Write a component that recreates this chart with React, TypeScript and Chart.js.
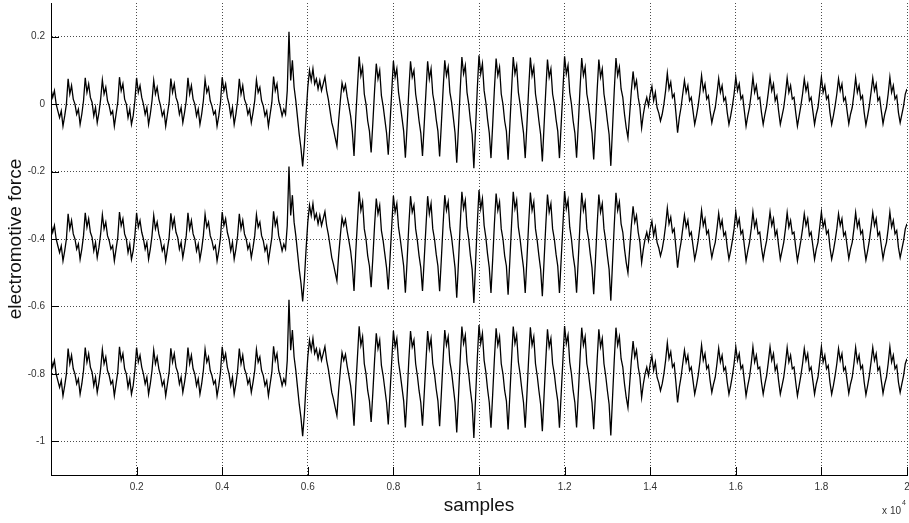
import React, { useEffect, useRef } from "react";
import { Chart, registerables } from "chart.js";

Chart.register(...registerables);

// sample index of every stored point (one point each 40 samples, 0 … 20000)
const samples: number[] = Array.from({ length: 501 }, (_, i) => i * 40);

// upper trace (baseline 0)
const emfUpper: number[] = [
  0.045, 0.02, 0.04, 0.0, -0.02, -0.04, -0.02, -0.065, -0.035, 0.0,
  0.075, 0.03, 0.055, 0.015, 0.0, -0.03, -0.015, -0.06, -0.03, 0.01,
  0.078, 0.035, 0.06, 0.02, 0.005, -0.035, -0.01, -0.055, -0.025, 0.015,
  0.072, 0.03, 0.05, 0.01, -0.005, -0.03, -0.02, -0.065, -0.03, 0.005,
  0.08, 0.04, 0.06, 0.015, 0.0, -0.04, -0.015, -0.06, -0.035, 0.01,
  0.078, 0.035, 0.055, 0.02, 0.0, -0.03, -0.01, -0.06, -0.03, 0.01,
  0.07, 0.03, 0.05, 0.015, -0.005, -0.035, -0.02, -0.065, -0.03, 0.005,
  0.076, 0.035, 0.06, 0.02, 0.005, -0.03, -0.01, -0.055, -0.025, 0.01,
  0.078, 0.03, 0.055, 0.015, 0.0, -0.035, -0.015, -0.06, -0.03, 0.01,
  0.073, 0.035, 0.05, 0.01, -0.005, -0.03, -0.02, -0.065, -0.035, 0.005,
  0.08, 0.04, 0.06, 0.02, 0.0, -0.035, -0.01, -0.06, -0.03, 0.01,
  0.075, 0.03, 0.055, 0.015, 0.0, -0.03, -0.015, -0.055, -0.025, 0.01,
  0.072, 0.035, 0.05, 0.01, -0.005, -0.035, -0.02, -0.065, -0.03, 0.005,
  0.082, 0.04, 0.06, 0.01, -0.01, -0.035, -0.015, -0.03, 0.04, 0.215,
  0.07, 0.13, 0.05, 0.01, -0.04, -0.09, -0.13, -0.185, -0.12, -0.03,
  0.05, 0.1, 0.07, 0.105, 0.06, 0.075, 0.045, 0.07, 0.04, 0.06,
  0.081, 0.04, 0.014, -0.02, -0.055, -0.075, -0.1, -0.124, -0.05, 0.01,
  0.063, 0.04, 0.058, 0.023, -0.005, -0.035, -0.08, -0.154, -0.04, 0.05,
  0.141, 0.085, 0.11, 0.03, 0.0, -0.05, -0.08, -0.143, -0.055, 0.04,
  0.12, 0.075, 0.1, 0.025, -0.005, -0.045, -0.085, -0.15, -0.06, 0.035,
  0.128, 0.08, 0.105, 0.035, 0.0, -0.04, -0.08, -0.159, -0.065, 0.04,
  0.127, 0.08, 0.1, 0.03, -0.005, -0.05, -0.085, -0.154, -0.06, 0.035,
  0.127, 0.075, 0.105, 0.03, 0.0, -0.045, -0.08, -0.155, -0.06, 0.04,
  0.13, 0.085, 0.11, 0.035, 0.005, -0.04, -0.085, -0.174, -0.07, 0.04,
  0.14, 0.09, 0.115, 0.035, 0.0, -0.05, -0.09, -0.19, -0.07, 0.045,
  0.145, 0.09, 0.12, 0.04, 0.005, -0.045, -0.085, -0.16, -0.06, 0.045,
  0.135, 0.085, 0.11, 0.03, 0.0, -0.05, -0.08, -0.165, -0.065, 0.04,
  0.14, 0.09, 0.115, 0.035, 0.0, -0.045, -0.085, -0.16, -0.06, 0.045,
  0.138, 0.085, 0.11, 0.03, -0.005, -0.05, -0.09, -0.17, -0.065, 0.04,
  0.132, 0.08, 0.105, 0.03, 0.0, -0.045, -0.08, -0.16, -0.06, 0.04,
  0.142, 0.09, 0.115, 0.035, 0.0, -0.05, -0.085, -0.159, -0.06, 0.045,
  0.137, 0.085, 0.11, 0.03, 0.0, -0.045, -0.085, -0.164, -0.065, 0.04,
  0.132, 0.08, 0.105, 0.03, -0.005, -0.05, -0.09, -0.183, -0.07, 0.04,
  0.137, 0.085, 0.11, 0.045, 0.02, -0.03, -0.07, -0.1, -0.03, 0.04,
  0.097, 0.05, 0.07, 0.02, -0.01, -0.07, -0.03, 0.0, 0.02, -0.005,
  0.03, 0.053, 0.01, 0.035, -0.01, -0.026, -0.05, -0.03, 0.0, 0.04,
  0.092, 0.045, 0.065, 0.02, 0.03, -0.025, -0.085, -0.04, -0.01, 0.03,
  0.07, 0.035, 0.055, 0.01, 0.02, -0.02, -0.06, -0.035, -0.005, 0.035,
  0.085, 0.04, 0.06, 0.015, 0.025, -0.02, -0.055, -0.03, -0.01, 0.03,
  0.076, 0.035, 0.055, 0.01, 0.02, -0.025, -0.06, -0.035, -0.005, 0.03,
  0.08, 0.04, 0.06, 0.015, 0.025, -0.02, -0.065, -0.035, -0.01, 0.03,
  0.08, 0.035, 0.055, 0.015, 0.02, -0.025, -0.06, -0.03, -0.005, 0.035,
  0.08, 0.04, 0.06, 0.01, 0.025, -0.02, -0.06, -0.035, -0.01, 0.03,
  0.078, 0.035, 0.055, 0.015, 0.02, -0.025, -0.065, -0.035, -0.005, 0.03,
  0.075, 0.04, 0.06, 0.01, 0.02, -0.02, -0.06, -0.03, -0.01, 0.035,
  0.08, 0.035, 0.055, 0.015, 0.025, -0.025, -0.06, -0.035, -0.005, 0.03,
  0.075, 0.04, 0.06, 0.01, 0.02, -0.02, -0.058, -0.03, -0.01, 0.03,
  0.078, 0.035, 0.055, 0.015, 0.025, -0.025, -0.062, -0.035, -0.005, 0.035,
  0.078, 0.04, 0.06, 0.01, 0.02, -0.02, -0.058, -0.03, -0.01, 0.03,
  0.08, 0.035, 0.055, 0.015, 0.025, -0.025, -0.055, -0.03, -0.005, 0.03,
  0.045,
];

// middle trace (baseline -0.4)
const emfMiddle: number[] = [
  -0.355, -0.38, -0.36, -0.4, -0.42, -0.44, -0.42, -0.465, -0.435, -0.4,
  -0.325, -0.37, -0.345, -0.385, -0.4, -0.43, -0.415, -0.46, -0.43, -0.39,
  -0.322, -0.365, -0.34, -0.38, -0.395, -0.435, -0.41, -0.455, -0.425, -0.385,
  -0.328, -0.37, -0.35, -0.39, -0.405, -0.43, -0.42, -0.465, -0.43, -0.395,
  -0.32, -0.36, -0.34, -0.385, -0.4, -0.44, -0.415, -0.46, -0.435, -0.39,
  -0.322, -0.365, -0.345, -0.38, -0.4, -0.43, -0.41, -0.46, -0.43, -0.39,
  -0.33, -0.37, -0.35, -0.385, -0.405, -0.435, -0.42, -0.465, -0.43, -0.395,
  -0.324, -0.365, -0.34, -0.38, -0.395, -0.43, -0.41, -0.455, -0.425, -0.39,
  -0.322, -0.37, -0.345, -0.385, -0.4, -0.435, -0.415, -0.46, -0.43, -0.39,
  -0.327, -0.365, -0.35, -0.39, -0.405, -0.43, -0.42, -0.465, -0.435, -0.395,
  -0.32, -0.36, -0.34, -0.38, -0.4, -0.435, -0.41, -0.46, -0.43, -0.39,
  -0.325, -0.37, -0.345, -0.385, -0.4, -0.43, -0.415, -0.455, -0.425, -0.39,
  -0.328, -0.365, -0.35, -0.39, -0.405, -0.435, -0.42, -0.465, -0.43, -0.395,
  -0.318, -0.36, -0.34, -0.39, -0.41, -0.435, -0.415, -0.43, -0.36, -0.185,
  -0.33, -0.27, -0.35, -0.39, -0.44, -0.49, -0.53, -0.585, -0.52, -0.43,
  -0.35, -0.3, -0.33, -0.295, -0.34, -0.325, -0.355, -0.33, -0.36, -0.34,
  -0.319, -0.36, -0.386, -0.42, -0.455, -0.475, -0.5, -0.524, -0.45, -0.39,
  -0.337, -0.36, -0.342, -0.377, -0.405, -0.435, -0.48, -0.554, -0.44, -0.35,
  -0.259, -0.315, -0.29, -0.37, -0.4, -0.45, -0.48, -0.543, -0.455, -0.36,
  -0.28, -0.325, -0.3, -0.375, -0.405, -0.445, -0.485, -0.55, -0.46, -0.365,
  -0.272, -0.32, -0.295, -0.365, -0.4, -0.44, -0.48, -0.559, -0.465, -0.36,
  -0.273, -0.32, -0.3, -0.37, -0.405, -0.45, -0.485, -0.554, -0.46, -0.365,
  -0.273, -0.325, -0.295, -0.37, -0.4, -0.445, -0.48, -0.555, -0.46, -0.36,
  -0.27, -0.315, -0.29, -0.365, -0.395, -0.44, -0.485, -0.574, -0.47, -0.36,
  -0.26, -0.31, -0.285, -0.365, -0.4, -0.45, -0.49, -0.59, -0.47, -0.355,
  -0.255, -0.31, -0.28, -0.36, -0.395, -0.445, -0.485, -0.56, -0.46, -0.355,
  -0.265, -0.315, -0.29, -0.37, -0.4, -0.45, -0.48, -0.565, -0.465, -0.36,
  -0.26, -0.31, -0.285, -0.365, -0.4, -0.445, -0.485, -0.56, -0.46, -0.355,
  -0.262, -0.315, -0.29, -0.37, -0.405, -0.45, -0.49, -0.57, -0.465, -0.36,
  -0.268, -0.32, -0.295, -0.37, -0.4, -0.445, -0.48, -0.56, -0.46, -0.36,
  -0.258, -0.31, -0.285, -0.365, -0.4, -0.45, -0.485, -0.559, -0.46, -0.355,
  -0.263, -0.315, -0.29, -0.37, -0.4, -0.445, -0.485, -0.564, -0.465, -0.36,
  -0.268, -0.32, -0.295, -0.37, -0.405, -0.45, -0.49, -0.583, -0.47, -0.36,
  -0.263, -0.315, -0.29, -0.355, -0.38, -0.43, -0.47, -0.5, -0.43, -0.36,
  -0.303, -0.35, -0.33, -0.38, -0.41, -0.47, -0.43, -0.4, -0.38, -0.405,
  -0.37, -0.347, -0.39, -0.365, -0.41, -0.426, -0.45, -0.43, -0.4, -0.36,
  -0.308, -0.355, -0.335, -0.38, -0.37, -0.425, -0.485, -0.44, -0.41, -0.37,
  -0.33, -0.365, -0.345, -0.39, -0.38, -0.42, -0.46, -0.435, -0.405, -0.365,
  -0.315, -0.36, -0.34, -0.385, -0.375, -0.42, -0.455, -0.43, -0.41, -0.37,
  -0.324, -0.365, -0.345, -0.39, -0.38, -0.425, -0.46, -0.435, -0.405, -0.37,
  -0.32, -0.36, -0.34, -0.385, -0.375, -0.42, -0.465, -0.435, -0.41, -0.37,
  -0.32, -0.365, -0.345, -0.385, -0.38, -0.425, -0.46, -0.43, -0.405, -0.365,
  -0.32, -0.36, -0.34, -0.39, -0.375, -0.42, -0.46, -0.435, -0.41, -0.37,
  -0.322, -0.365, -0.345, -0.385, -0.38, -0.425, -0.465, -0.435, -0.405, -0.37,
  -0.325, -0.36, -0.34, -0.39, -0.38, -0.42, -0.46, -0.43, -0.41, -0.365,
  -0.32, -0.365, -0.345, -0.385, -0.375, -0.425, -0.46, -0.435, -0.405, -0.37,
  -0.325, -0.36, -0.34, -0.39, -0.38, -0.42, -0.458, -0.43, -0.41, -0.37,
  -0.322, -0.365, -0.345, -0.385, -0.375, -0.425, -0.462, -0.435, -0.405, -0.365,
  -0.322, -0.36, -0.34, -0.39, -0.38, -0.42, -0.458, -0.43, -0.41, -0.37,
  -0.32, -0.365, -0.345, -0.385, -0.375, -0.425, -0.455, -0.43, -0.405, -0.37,
  -0.355,
];

// lower trace (baseline -0.8)
const emfLower: number[] = [
  -0.755, -0.78, -0.76, -0.8, -0.82, -0.84, -0.82, -0.865, -0.835, -0.8,
  -0.725, -0.77, -0.745, -0.785, -0.8, -0.83, -0.815, -0.86, -0.83, -0.79,
  -0.722, -0.765, -0.74, -0.78, -0.795, -0.835, -0.81, -0.855, -0.825, -0.785,
  -0.728, -0.77, -0.75, -0.79, -0.805, -0.83, -0.82, -0.865, -0.83, -0.795,
  -0.72, -0.76, -0.74, -0.785, -0.8, -0.84, -0.815, -0.86, -0.835, -0.79,
  -0.722, -0.765, -0.745, -0.78, -0.8, -0.83, -0.81, -0.86, -0.83, -0.79,
  -0.73, -0.77, -0.75, -0.785, -0.805, -0.835, -0.82, -0.865, -0.83, -0.795,
  -0.724, -0.765, -0.74, -0.78, -0.795, -0.83, -0.81, -0.855, -0.825, -0.79,
  -0.722, -0.77, -0.745, -0.785, -0.8, -0.835, -0.815, -0.86, -0.83, -0.79,
  -0.727, -0.765, -0.75, -0.79, -0.805, -0.83, -0.82, -0.865, -0.835, -0.795,
  -0.72, -0.76, -0.74, -0.78, -0.8, -0.835, -0.81, -0.86, -0.83, -0.79,
  -0.725, -0.77, -0.745, -0.785, -0.8, -0.83, -0.815, -0.855, -0.825, -0.79,
  -0.728, -0.765, -0.75, -0.79, -0.805, -0.835, -0.82, -0.865, -0.83, -0.795,
  -0.718, -0.76, -0.74, -0.79, -0.81, -0.835, -0.815, -0.83, -0.76, -0.58,
  -0.73, -0.67, -0.75, -0.79, -0.84, -0.89, -0.93, -0.985, -0.92, -0.83,
  -0.75, -0.7, -0.73, -0.695, -0.74, -0.725, -0.755, -0.73, -0.76, -0.74,
  -0.719, -0.76, -0.786, -0.82, -0.855, -0.875, -0.9, -0.924, -0.85, -0.79,
  -0.737, -0.76, -0.742, -0.777, -0.805, -0.835, -0.88, -0.954, -0.84, -0.75,
  -0.659, -0.715, -0.69, -0.77, -0.8, -0.85, -0.88, -0.943, -0.855, -0.76,
  -0.68, -0.725, -0.7, -0.775, -0.805, -0.845, -0.885, -0.95, -0.86, -0.765,
  -0.672, -0.72, -0.695, -0.765, -0.8, -0.84, -0.88, -0.959, -0.865, -0.76,
  -0.673, -0.72, -0.7, -0.77, -0.805, -0.85, -0.885, -0.954, -0.86, -0.765,
  -0.673, -0.725, -0.695, -0.77, -0.8, -0.845, -0.88, -0.955, -0.86, -0.76,
  -0.67, -0.715, -0.69, -0.765, -0.795, -0.84, -0.885, -0.974, -0.87, -0.76,
  -0.66, -0.71, -0.685, -0.765, -0.8, -0.85, -0.89, -0.99, -0.87, -0.755,
  -0.655, -0.71, -0.68, -0.76, -0.795, -0.845, -0.885, -0.96, -0.86, -0.755,
  -0.665, -0.715, -0.69, -0.77, -0.8, -0.85, -0.88, -0.965, -0.865, -0.76,
  -0.66, -0.71, -0.685, -0.765, -0.8, -0.845, -0.885, -0.96, -0.86, -0.755,
  -0.662, -0.715, -0.69, -0.77, -0.805, -0.85, -0.89, -0.97, -0.865, -0.76,
  -0.668, -0.72, -0.695, -0.77, -0.8, -0.845, -0.88, -0.96, -0.86, -0.76,
  -0.658, -0.71, -0.685, -0.765, -0.8, -0.85, -0.885, -0.959, -0.86, -0.755,
  -0.663, -0.715, -0.69, -0.77, -0.8, -0.845, -0.885, -0.964, -0.865, -0.76,
  -0.668, -0.72, -0.695, -0.77, -0.805, -0.85, -0.89, -0.983, -0.87, -0.76,
  -0.663, -0.715, -0.69, -0.755, -0.78, -0.83, -0.87, -0.9, -0.83, -0.76,
  -0.703, -0.75, -0.73, -0.78, -0.81, -0.87, -0.83, -0.8, -0.78, -0.805,
  -0.77, -0.747, -0.79, -0.765, -0.81, -0.826, -0.85, -0.83, -0.8, -0.76,
  -0.708, -0.755, -0.735, -0.78, -0.77, -0.825, -0.885, -0.84, -0.81, -0.77,
  -0.73, -0.765, -0.745, -0.79, -0.78, -0.82, -0.86, -0.835, -0.805, -0.765,
  -0.715, -0.76, -0.74, -0.785, -0.775, -0.82, -0.855, -0.83, -0.81, -0.77,
  -0.724, -0.765, -0.745, -0.79, -0.78, -0.825, -0.86, -0.835, -0.805, -0.77,
  -0.72, -0.76, -0.74, -0.785, -0.775, -0.82, -0.865, -0.835, -0.81, -0.77,
  -0.72, -0.765, -0.745, -0.785, -0.78, -0.825, -0.86, -0.83, -0.805, -0.765,
  -0.72, -0.76, -0.74, -0.79, -0.775, -0.82, -0.86, -0.835, -0.81, -0.77,
  -0.722, -0.765, -0.745, -0.785, -0.78, -0.825, -0.865, -0.835, -0.805, -0.77,
  -0.725, -0.76, -0.74, -0.79, -0.78, -0.82, -0.86, -0.83, -0.81, -0.765,
  -0.72, -0.765, -0.745, -0.785, -0.775, -0.825, -0.86, -0.835, -0.805, -0.77,
  -0.725, -0.76, -0.74, -0.79, -0.78, -0.82, -0.858, -0.83, -0.81, -0.77,
  -0.722, -0.765, -0.745, -0.785, -0.775, -0.825, -0.862, -0.835, -0.805, -0.765,
  -0.722, -0.76, -0.74, -0.79, -0.78, -0.82, -0.858, -0.83, -0.81, -0.77,
  -0.72, -0.765, -0.745, -0.785, -0.775, -0.825, -0.855, -0.83, -0.805, -0.77,
  -0.755,
];

const xTickValues: number[] = [2000, 4000, 6000, 8000, 10000, 12000, 14000, 16000, 18000, 20000];
const xTickLabels: string[] = ["0.2", "0.4", "0.6", "0.8", "1", "1.2", "1.4", "1.6", "1.8", "2"];
const yTickValues: number[] = [0.2, 0, -0.2, -0.4, -0.6, -0.8, -1];
const yTickLabels: string[] = ["0.2", "0", "-0.2", "-0.4", "-0.6", "-0.8", "-1"];
const xExponentBase = "x 10";
const xExponent = "4";
const xTitle = "samples";
const yTitle = "electromotive force";

const FONT = '"Liberation Sans", Arial, Helvetica, sans-serif';

const matlabAxesPlugin = {
  id: "matlabAxes",
  afterDraw(chart: any) {
    const { ctx, chartArea: a, scales } = chart;
    const x = scales.x;
    const y = scales.y;
    ctx.save();
    ctx.strokeStyle = "#000";
    ctx.lineWidth = 1;
    ctx.setLineDash([]);
    ctx.beginPath();
    xTickValues.forEach((v) => {
      const px = Math.round(x.getPixelForValue(v)) + 0.5;
      ctx.moveTo(px, a.bottom);
      ctx.lineTo(px, a.bottom - 8);
    });
    yTickValues.forEach((v) => {
      const py = Math.round(y.getPixelForValue(v)) + 0.5;
      ctx.moveTo(a.left, py);
      ctx.lineTo(a.left + 8, py);
    });
    ctx.stroke();
    ctx.fillStyle = "#333";
    ctx.font = `10px ${FONT}`;
    ctx.textAlign = "right";
    ctx.textBaseline = "alphabetic";
    ctx.fillText(xExponentBase, a.right - 6, 514);
    ctx.font = `7px ${FONT}`;
    ctx.textAlign = "left";
    ctx.fillText(xExponent, a.right - 5, 505);
    ctx.restore();
  },
};

export default function App() {
  const canvasRef = useRef<HTMLCanvasElement | null>(null);

  useEffect(() => {
    const canvas = canvasRef.current;
    if (!canvas) return;
    const mkSet = (data: number[]) => ({
      data,
      borderColor: "#000",
      borderWidth: 1.3,
      pointRadius: 0,
      pointHoverRadius: 0,
      fill: false,
      tension: 0,
    });
    const chart = new Chart(canvas, {
      type: "line",
      data: {
        labels: samples,
        datasets: [mkSet(emfUpper), mkSet(emfMiddle), mkSet(emfLower)],
      },
      options: {
        responsive: false,
        animation: false,
        devicePixelRatio: 1,
        layout: { padding: { top: 3, right: 2, bottom: 0, left: 0 } },
        plugins: {
          legend: { display: false },
          tooltip: { enabled: false },
          title: { display: false },
        },
        events: [],
        scales: {
          x: {
            type: "linear",
            min: 0,
            max: 20000,
            afterBuildTicks: (s: any) => {
              s.ticks = xTickValues.map((v) => ({ value: v }));
            },
            afterFit: (s: any) => {
              s.height = 48;
              s.paddingLeft = 0;
              s.paddingRight = 0;
            },
            ticks: {
              autoSkip: false,
              maxRotation: 0,
              minRotation: 0,
              padding: 6,
              color: "#333",
              font: { family: FONT, size: 10 },
              callback: (_v: any, i: number) => xTickLabels[i],
            },
            grid: { color: "rgba(0,0,0,0.7)", lineWidth: 1, drawTicks: false },
            border: { display: true, color: "#000", width: 1, dash: [1, 2] },
            title: {
              display: true,
              text: xTitle,
              color: "#111",
              font: { family: FONT, size: 19 },
              padding: { top: 0, bottom: 6 },
            },
          },
          y: {
            type: "linear",
            min: -1.1,
            max: 0.3,
            afterBuildTicks: (s: any) => {
              s.ticks = yTickValues.map((v) => ({ value: v }));
            },
            afterFit: (s: any) => {
              s.width = 51;
              s.paddingTop = 0;
              s.paddingBottom = 0;
            },
            ticks: {
              autoSkip: false,
              padding: 6,
              color: "#333",
              font: { family: FONT, size: 10 },
              callback: (_v: any, i: number) => yTickLabels[i],
            },
            grid: { color: "rgba(0,0,0,0.7)", lineWidth: 1, drawTicks: false },
            border: { display: true, color: "#000", width: 1, dash: [1, 2] },
            title: {
              display: true,
              text: yTitle,
              color: "#111",
              font: { family: FONT, size: 19 },
              padding: { top: 4, bottom: 0 },
            },
          },
        },
      },
      plugins: [matlabAxesPlugin],
    } as any);
    return () => chart.destroy();
  }, []);

  return (
    <div style={{ position: "absolute", left: 0, top: 0, width: 909, height: 523, background: "#fff" }}>
      <canvas ref={canvasRef} width={909} height={523} style={{ display: "block", width: 909, height: 523 }} />
    </div>
  );
}
